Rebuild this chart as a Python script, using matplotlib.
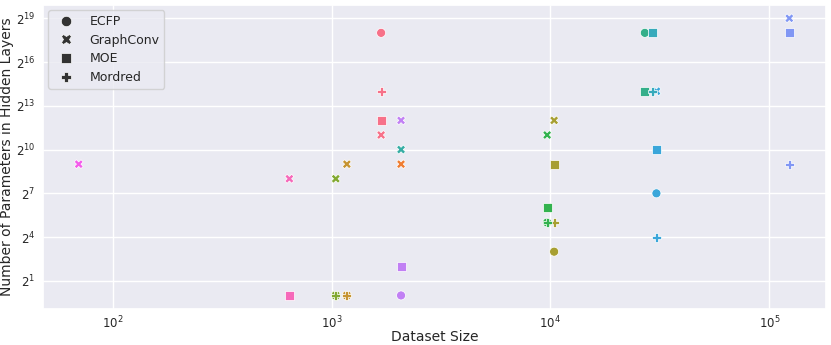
import matplotlib
matplotlib.use("Agg")
import matplotlib.pyplot as plt
from matplotlib.lines import Line2D
import matplotlib.ticker as mticker
import numpy as np
import pandas as pd
import seaborn as sns

# one entry per trained model: dataset size, hidden-layer parameter exponent (2^k),
# dataset (hue index) and featurization
dataset_size = [
    1685, 1685, 1685, 1685,
    2078,
    1175, 1175, 1175,
    10400, 10400, 10400, 10400,
    1046, 1046, 1046,
    9660, 9660, 9660, 9660,
    27000, 27000,
    2078,
    30500, 30500, 30500, 30500,
    29250, 29250,
    123400, 123400, 123400,
    2078, 2078, 2078,
    70,
    642, 642,
]
param_exp = [
    18, 14, 12, 11,
    9,
    9, 0, 0,
    12, 9, 5, 3,
    8, 0, 0,
    11, 6, 5, 5,
    18, 14,
    10,
    14, 10, 7, 4,
    18, 14,
    19, 18, 9,
    12, 2, 0,
    9,
    8, 0,
]
dataset_id = [
    0, 0, 0, 0,
    1,
    2, 2, 2,
    3, 3, 3, 3,
    4, 4, 4,
    5, 5, 5, 5,
    6, 6,
    7,
    9, 9, 9, 9,
    8, 8,
    10, 10, 10,
    11, 11, 11,
    12,
    13, 13,
]
featurization = [
    "ECFP", "Mordred", "MOE", "GraphConv",
    "GraphConv",
    "GraphConv", "GraphConv", "Mordred",
    "GraphConv", "MOE", "Mordred", "ECFP",
    "GraphConv", "GraphConv", "Mordred",
    "GraphConv", "MOE", "ECFP", "Mordred",
    "ECFP", "MOE",
    "GraphConv",
    "GraphConv", "MOE", "ECFP", "Mordred",
    "MOE", "Mordred",
    "GraphConv", "MOE", "Mordred",
    "GraphConv", "MOE", "ECFP",
    "GraphConv",
    "GraphConv", "MOE",
]
feat_order = ["ECFP", "GraphConv", "MOE", "Mordred"]
feat_markers = {"ECFP": "o", "GraphConv": "X", "MOE": "s", "Mordred": "P"}

sns.set_theme(style="darkgrid")
plt.rcParams["font.family"] = ["DejaVu Sans"]

df = pd.DataFrame({
    "size": dataset_size,
    "params": np.power(2.0, param_exp),
    "dataset": dataset_id,
    "feat": featurization,
})

palette = sns.color_palette("husl", 14)

fig = plt.figure(figsize=(8.31, 3.45), dpi=100)
ax = fig.add_axes([0.052, 0.1043, 0.942, 0.8812])

sns.scatterplot(
    data=df, x="size", y="params", hue="dataset", style="feat",
    palette=palette, markers=feat_markers, style_order=feat_order,
    s=42, legend=False, ax=ax,
)

ax.set_xscale("log")
ax.set_yscale("log", base=2)
ax.set_xlim(10 ** 1.683, 10 ** 5.259)
ax.set_ylim(2 ** -0.93, 2 ** 19.91)
ax.set_yticks([2.0 ** k for k in [1, 4, 7, 10, 13, 16, 19]])
ax.yaxis.set_major_formatter(mticker.LogFormatterMathtext(base=2))
ax.yaxis.set_minor_locator(mticker.NullLocator())
ax.set_xticks([1e2, 1e3, 1e4, 1e5])
ax.xaxis.set_minor_locator(mticker.NullLocator())
ax.tick_params(axis="x", labelsize=8.5, length=0, pad=4)
ax.tick_params(axis="y", labelsize=8.5, length=0, pad=5.5)

ax.set_xlabel("Dataset Size", fontsize=10)
ax.set_ylabel("Number of Parameters in Hidden Layers", fontsize=10)
ax.xaxis.set_label_coords(0.5, -0.068)
ax.yaxis.set_label_coords(-0.037, 0.5)

handles = [
    Line2D([], [], linestyle="", marker=feat_markers[f], color=".2",
           markersize=7.5, markeredgecolor="white", markeredgewidth=0.5)
    for f in feat_order
]
ax.legend(handles, feat_order, loc="upper left", fontsize=9,
          handletextpad=0.9, labelspacing=0.45, borderaxespad=0.4)

fig.savefig("out.png", dpi=100)
